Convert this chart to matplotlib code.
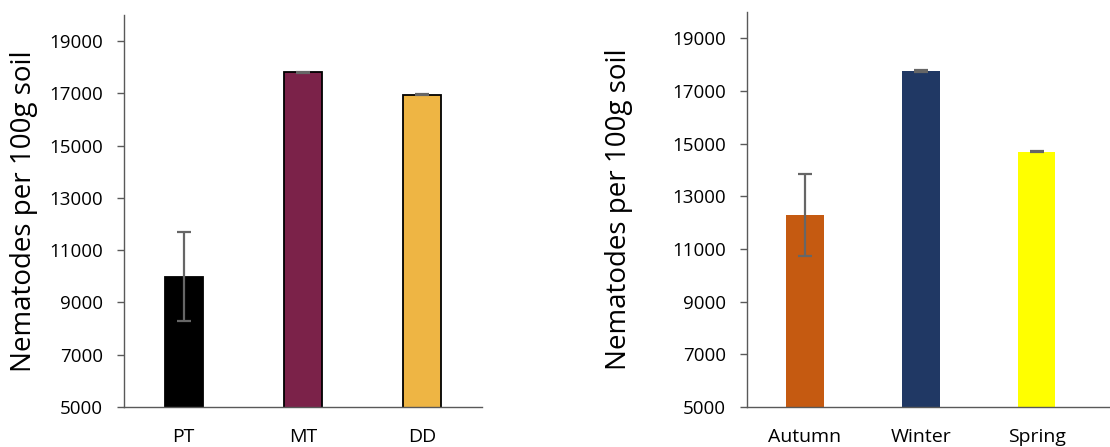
import numpy as np
import matplotlib.pyplot as plt

plt.rcParams['font.family'] = ['Open Sans', 'DejaVu Sans']

# left panel: tillage
till_cats = ['PT', 'MT', 'DD']
till_vals = [9980, 17800, 16950]
till_err = [1700, 20, 15]
till_cols = ['#000000', '#7B2249', '#EEB544']

# right panel: season
season_cats = ['Autumn', 'Winter', 'Spring']
season_vals = [12280, 17760, 14700]
season_err = [1560, 20, 20]
season_cols = ['#C55A11', '#203864', '#FFFF00']

yticks = [5000, 7000, 9000, 11000, 13000, 15000, 17000, 19000]

W, H = 1110, 447
fig = plt.figure(figsize=(W / 100, H / 100), dpi=100)

ax1 = fig.add_axes([124 / W, 1 - 407 / H, (482 - 124) / W, (407 - 15) / H])
ax2 = fig.add_axes([747 / W, 1 - 407 / H, (1110 - 747) / W, (407 - 12) / H])


def draw(ax, cats, vals, err, cols, edge, xmax):
    x = np.arange(len(cats))
    ax.bar(x, vals, width=0.32, color=cols,
           edgecolor='black' if edge else 'none', linewidth=1.3 if edge else 0)
    ax.errorbar(x, vals, yerr=err, fmt='none', ecolor='#666666',
                elinewidth=1.6, capsize=4.8, capthick=1.6)
    ax.set_xlim(-0.5, xmax)
    ax.set_ylim(5000, 20000)
    ax.set_yticks(yticks)
    ax.set_xticks(x)
    ax.set_xticklabels(cats, fontsize=14)
    ax.tick_params(axis='x', length=0, pad=15)
    ax.tick_params(axis='y', length=5, width=1, color='#595959', labelsize=13.5, pad=10)
    for s in ['top', 'right']:
        ax.spines[s].set_visible(False)
    for s in ['left', 'bottom']:
        ax.spines[s].set_color('#595959')
        ax.spines[s].set_linewidth(1)
    ax.set_ylabel('Nematodes per 100g soil', fontsize=20)


draw(ax1, till_cats, till_vals, till_err, till_cols, True, 2.5)
ax1.yaxis.set_label_coords(-0.240, 0.5)
draw(ax2, season_cats, season_vals, season_err, season_cols, False, 2.63)
ax2.yaxis.set_label_coords(-0.314, 0.5)

fig.savefig('out.png', dpi=100)
